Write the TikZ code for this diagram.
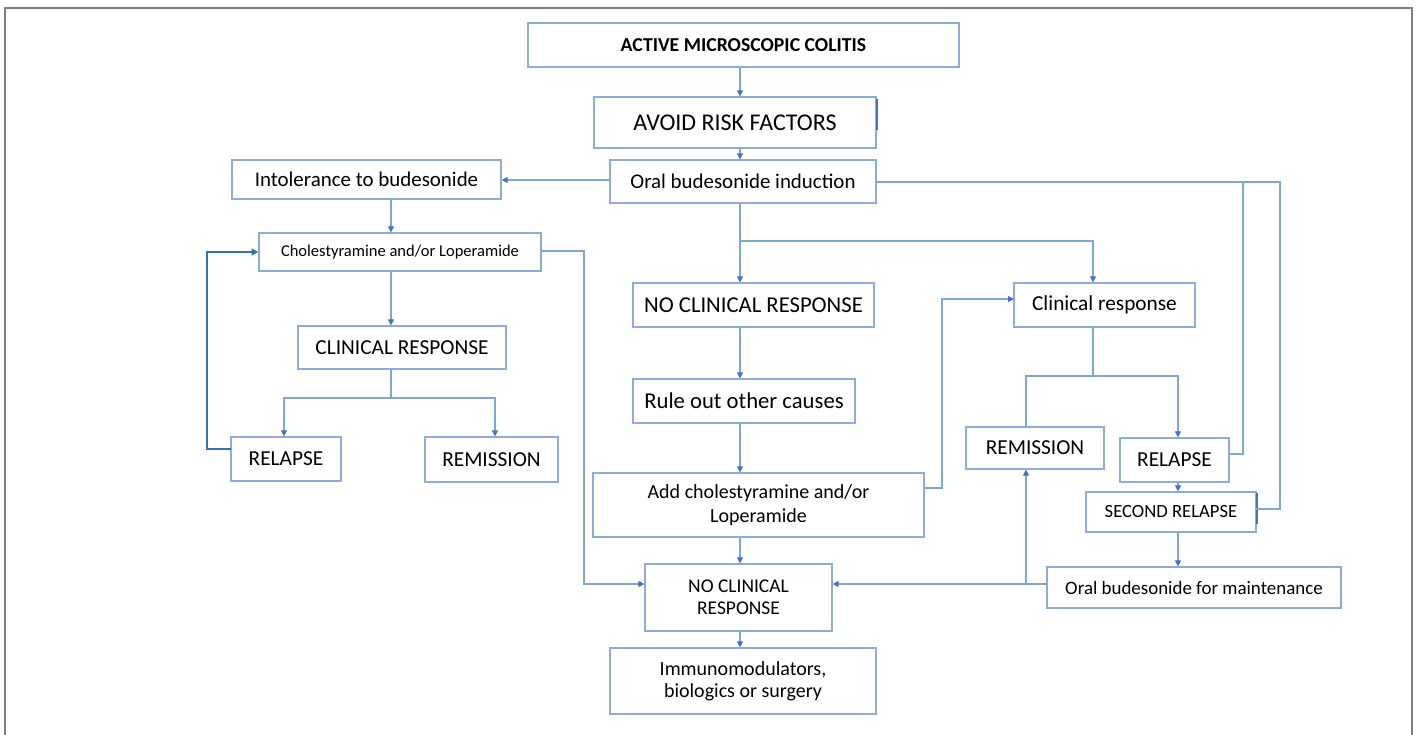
\documentclass[tikz,border=0pt]{standalone}
\usepackage{fontspec}
\setmainfont{Carlito}
\usetikzlibrary{arrows.meta}
\definecolor{boxc}{HTML}{8FAADC}
\definecolor{linec}{HTML}{7EA6D8}
\definecolor{tipc}{HTML}{4472C4}
\definecolor{loopc}{HTML}{2E75B6}
\definecolor{framec}{HTML}{7F7F7F}
\newcommand\bx[7][]{\node[box,#1,minimum width={(#5-#3)*0.75pt},minimum height={(#6-#4)*0.75pt}] (#2) at ({(#3+#5)/2},{(#4+#6)/2}) {#7};}
\newcommand\fsz[2]{\fontsize{#1}{#2}\selectfont}
\tikzset{
  box/.style={draw=boxc, line width=0.9pt, inner sep=0pt, align=center, text=black},
  conn/.style={draw=linec, line width=0.8pt},
  arr/.style={conn, -{Triangle[length=4.5pt,width=4.5pt,color=tipc]}},
  loop/.style={draw=loopc, line width=1.4pt, -{Triangle[length=5pt,width=5pt,color=loopc]}},
}
\begin{document}
\begin{tikzpicture}[x=0.75pt,y=-0.75pt]
\useasboundingbox (0,0) rectangle (1417,735);
\draw[framec, line width=1.3pt] (5,735) -- (5,8) -- (1412,8) -- (1412,735);
% nodes
\bx[font=\fsz{14.8}{17}\bfseries]{active}{528}{23}{959}{67}{ACTIVE MICROSCOPIC COLITIS}
\bx[font=\fsz{18}{21}]{avoid}{594}{97}{876}{148}{AVOID RISK FACTORS}
\bx[font=\fsz{15.7}{19}]{oral}{610}{160}{876}{203}{Oral budesonide induction}
\bx[font=\fsz{15.7}{19}]{intol}{232}{160}{501}{199}{Intolerance to budesonide}
\bx[font=\fsz{12.4}{15}]{chol}{259}{233}{541}{271}{Cholestyramine and/or Loperamide}
\bx[font=\fsz{16}{19}]{crl}{298}{326}{506}{369}{CLINICAL RESPONSE}
\bx[font=\fsz{16}{19}]{rell}{231}{437}{341}{481}{RELAPSE}
\bx[font=\fsz{16}{19}]{reml}{425}{437}{558}{482}{REMISSION}
\bx[font=\fsz{17}{20}]{ncra}{633}{283}{874}{327}{NO CLINICAL RESPONSE}
\bx[font=\fsz{17}{20}]{rule}{633}{379}{855}{423}{Rule out other causes}
\bx[font=\fsz{15}{17.5}]{add}{593}{473}{924}{537}{Add cholestyramine and/or\\Loperamide}
\bx[font=\fsz{14.6}{16.5}]{ncrb}{645}{564}{832}{631}{NO CLINICAL\\RESPONSE}
\bx[font=\fsz{15}{16.5}]{immu}{610}{648}{876}{714}{Immunomodulators,\\biologics or surgery}
\bx[font=\fsz{16}{19}]{cresp}{1014}{283}{1195}{327}{Clinical response}
\bx[font=\fsz{16}{19}]{remr}{966}{427}{1104}{469}{REMISSION}
\bx[font=\fsz{16}{19}]{relr}{1120}{438}{1229}{482}{RELAPSE}
\bx[font=\fsz{14}{17}]{second}{1086}{492}{1256}{532}{SECOND RELAPSE}
\bx[font=\fsz{14.2}{17}]{maint}{1047}{567}{1341}{608}{Oral budesonide for maintenance}
% small darker marks on box edges
\draw[tipc, line width=0.9pt] (877,99) -- (877,130);
\draw[tipc, line width=0.9pt] (1257,493) -- (1257,524);
% guide coordinates
\coordinate (cx) at (740,0);
\coordinate (lx) at (391,0);
\coordinate (rx) at (1093,0);
\coordinate (sx) at (1178,0);
\coordinate (ly) at (0,584);
% main column
\draw[arr] (active.south -| cx) -- (avoid.north -| cx);
\draw[arr] (avoid.south -| cx) -- (oral.north -| cx);
\draw[arr] (oral.south -| cx) -- (ncra.north -| cx);
\draw[arr] (ncra.south -| cx) -- (rule.north -| cx);
\draw[arr] (rule.south -| cx) -- (add.north -| cx);
\draw[arr] (add.south -| cx) -- (ncrb.north -| cx);
\draw[arr] (ncrb.south -| cx) -- (immu.north -| cx);
% branch to clinical response
\coordinate (j1) at (740,241);
\draw[arr] (j1) -| (cresp.north -| rx);
% intolerance branch
\coordinate (ow) at (610,180);
\draw[arr] (ow) -- (ow -| intol.east);
\draw[arr] (intol.south -| lx) -- (chol.north -| lx);
\draw[arr] (chol.south -| lx) -- (crl.north -| lx);
\coordinate (j2) at (391,398);
\draw[conn] (crl.south -| lx) -- (j2);
\draw[arr] (j2) -| (rell.north -| 284,0);
\draw[arr] (j2) -| (reml.north -| 495,0);
% loop relapse -> cholestyramine
\coordinate (lr) at (231,449);
\draw[loop] (lr) -- (207,449) |- (chol.west);
% cholestyramine -> lower no clinical response
\coordinate (ce) at (541,251);
\draw[arr] (ce) -- (584,251) |- (ncrb.west |- ly);
% add -> clinical response
\coordinate (ae) at (924,488);
\draw[arr] (ae) -- (942,488) |- (1014,299);
% clinical response split
\coordinate (j3) at (1093,376);
\draw[conn] (cresp.south -| rx) -- (j3);
\draw[conn] (j3) -| (remr.north -| 1026,0);
\draw[arr] (j3) -| (relr.north -| sx);
\draw[arr] (relr.south -| sx) -- (second.north -| sx);
\draw[arr] (second.south -| sx) -- (maint.north -| sx);
% maintenance -> remission and no clinical response
\coordinate (mw) at (1047,584);
\coordinate (j4) at (1026,584);
\draw[conn] (mw) -- (j4);
\draw[arr] (j4) -- (remr.south -| j4);
\draw[arr] (j4) -- (ncrb.east |- ly);
% relapse loops back to oral induction
\coordinate (re) at (1229,454);
\draw[conn] (re) -- (1243,454) -- (1243,182);
\coordinate (oe) at (876,182);
\coordinate (se) at (1256,509);
\draw[conn] (oe) -- (1280,182) -- (1280,509) -- (se);
\end{tikzpicture}
\end{document}
